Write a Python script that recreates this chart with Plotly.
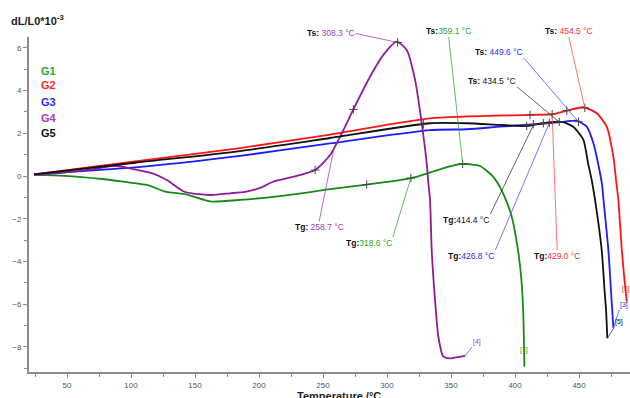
import numpy as np
import plotly.graph_objects as go

# ---------------- data ----------------
SERIES = ["G1", "G2", "G3", "G4", "G5"]

T_G1 = [24.2, 48.4, 77.3, 95.3, 112.5, 126.6, 143.8, 161.7, 185.2, 216.4, 255.5, 284.1,
        318.0, 336.0, 346.9, 358.4, 364.8, 372.7, 382.8, 390.6, 397.4, 402.3, 405.2, 406.5, 407.3]
DL_G1 = [0.05, 0.01, -0.14, -0.28, -0.42, -0.73, -0.87, -1.19, -1.12, -0.94, -0.62, -0.40,
         -0.11, 0.21, 0.42, 0.57, 0.55, 0.47, -0.03, -0.80, -1.91, -3.47, -5.01, -6.59, -8.93]

T_G2 = [24.2, 103.1, 185.2, 255.5, 333.6, 411.7, 429.9, 440.4, 453.4, 463.8, 471.6, 476.8,
        478.9, 480.7, 483.4, 485.5, 487.3]
DL_G2 = [0.08, 0.68, 1.31, 1.94, 2.70, 2.86, 2.90, 3.06, 3.22, 2.94, 2.31, 0.90,
         -0.19, -1.12, -3.47, -4.87, -5.89]

T_G3 = [24.2, 103.1, 185.2, 255.5, 333.6, 362.3, 388.3, 414.3, 435.2, 448.2, 456.0, 461.2,
        466.4, 468.0, 469.1, 472.9, 475.4, 476.8]
DL_G3 = [0.08, 0.40, 0.94, 1.53, 2.15, 2.19, 2.31, 2.42, 2.52, 2.59, 2.31, 1.53,
         0.13, -0.42, -1.12, -3.47, -5.81, -7.10]

T_G4 = [24.2, 43.2, 69.3, 87.5, 103.1, 116.2, 127.9, 142.2, 163.0, 177.3, 189.0, 200.8,
        211.0, 228.0, 243.8, 255.5, 265.9, 273.7, 286.7, 297.1, 307.6, 315.4, 321.9, 327.1,
        331.0, 332.3, 333.6, 334.9, 337.5, 340.1, 344.0, 349.2, 360.9]
DL_G4 = [0.05, 0.13, 0.31, 0.48, 0.31, 0.13, -0.19, -0.75, -0.89, -0.81, -0.74, -0.56,
         -0.27, -0.02, 0.28, 0.98, 2.15, 3.12, 4.65, 5.67, 6.29, 5.90, 4.50, 2.47,
         0.59, -0.34, -1.12, -3.47, -5.81, -7.53, -8.46, -8.54, -8.43]

T_G5 = [24.2, 103.1, 185.2, 255.5, 333.6, 362.3, 388.3, 409.1, 422.1, 432.6, 437.7, 445.5,
        453.4, 457.0, 459.9, 462.5, 467.7, 469.9, 471.1, 472.1]
DL_G5 = [0.08, 0.62, 1.17, 1.78, 2.47, 2.47, 2.39, 2.34, 2.47, 2.54, 2.52, 2.31,
         1.69, 0.61, -0.19, -1.12, -3.47, -5.34, -6.28, -7.60]

TS = [359.1, 454.5, 449.6, 308.3, 434.5]   # softening temperatures
TG = [318.6, 429.0, 426.8, 258.7, 414.4]   # glass transition temperatures

MARK_G1 = [284.1, 318.6, 359.1]
MARK_G2 = [411.7, 429.0, 440.4, 454.5]
MARK_G3 = [414.3, 426.8, 449.6]
MARK_G4 = [243.8, 273.7, 308.3]
MARK_G5 = [328.4, 409.1, 422.1, 434.5]

END_LABELS = ["[1]", "[2]", "[3]", "[4]", "[5]"]

X_TICKS = [50, 100, 150, 200, 250, 300, 350, 400, 450]
Y_TICKS = [-8, -6, -4, -2, 0, 2, 4, 6]

# ---------------- styles ----------------
T_ALL = [T_G1, T_G2, T_G3, T_G4, T_G5]
DL_ALL = [DL_G1, DL_G2, DL_G3, DL_G4, DL_G5]
MARKS = [MARK_G1, MARK_G2, MARK_G3, MARK_G4, MARK_G5]
LINE_COL = ["#168a16", "#ff1414", "#1c1cff", "#8e1c9a", "#111111"]
TEXT_COL = ["#2ca52c", "#ff2a2a", "#2a2aff", "#a040b0", "#111111"]
LEAD_COL = ["rgba(40,170,40,0.75)", "rgba(255,70,70,0.75)", "rgba(70,70,255,0.75)",
            "rgba(160,60,170,0.75)", "rgba(60,60,60,0.8)"]
FONT = "Liberation Sans, Arial, sans-serif"

# label offsets (pixels) and anchors: (ax, ay, xanchor, yanchor)
TS_POS = [(-14, -127, "center", "bottom"), (-16, -71, "center", "bottom"),
          (-55, -64, "right", "bottom"), (-42, -9, "right", "middle"),
          (-42, -35, "right", "bottom")]
TG_POS = [(-18, 59, "right", "top"), (5, 136, "center", "top"),
          (-54, 127, "right", "top"), (-15, 74, "center", "top"),
          (-43, 89, "right", "top")]
END_POS = [(0, -12, "center", "bottom", False), (-1, -8, "center", "bottom", False),
           (6, -18, "left", "bottom", True), (7, -9, "left", "bottom", True),
           (7, -11, "left", "bottom", True)]

fig = go.Figure()

for i, name in enumerate(SERIES):
    fig.add_trace(go.Scatter(
        x=T_ALL[i], y=DL_ALL[i], mode="lines", name=name,
        line=dict(color=LINE_COL[i], width=1.8, shape="spline", smoothing=0.6),
        showlegend=False, hoverinfo="skip"))

for i, name in enumerate(SERIES):
    mx = MARKS[i]
    my = np.interp(mx, T_ALL[i], DL_ALL[i])
    fig.add_trace(go.Scatter(
        x=mx, y=my, mode="markers", showlegend=False, hoverinfo="skip",
        marker=dict(symbol="cross-thin", size=6, line=dict(color="#444444", width=1))))

annotations = []
for i, name in enumerate(SERIES):
    # Ts
    ax, ay, xa, ya = TS_POS[i]
    sep = "" if i == 0 else " "
    annotations.append(dict(
        x=TS[i], y=float(np.interp(TS[i], T_ALL[i], DL_ALL[i])), xref="x", yref="y",
        text=f"<b>Ts:</b>{sep}<span style='color:{TEXT_COL[i]}'>{TS[i]:.1f} °C</span>",
        showarrow=True, arrowhead=0, arrowwidth=1, arrowcolor=LEAD_COL[i],
        ax=ax, ay=ay, xanchor=xa, yanchor=ya, borderpad=0,
        font=dict(family=FONT, size=8.5, color="#111111")))
    # Tg
    ax, ay, xa, ya = TG_POS[i]
    sep = " " if name == "G4" else ""
    annotations.append(dict(
        x=TG[i], y=float(np.interp(TG[i], T_ALL[i], DL_ALL[i])), xref="x", yref="y",
        text=f"<b>Tg:</b>{sep}<span style='color:{TEXT_COL[i]}'>{TG[i]:.1f} °C</span>",
        showarrow=True, arrowhead=0, arrowwidth=1, arrowcolor=LEAD_COL[i],
        ax=ax, ay=ay, xanchor=xa, yanchor=ya, borderpad=0,
        font=dict(family=FONT, size=8.5, color="#111111")))
    # end labels
    ax, ay, xa, ya, arrow = END_POS[i]
    annotations.append(dict(
        x=T_ALL[i][-1], y=DL_ALL[i][-1], xref="x", yref="y",
        text=END_LABELS[i], showarrow=True, arrowhead=0, arrowwidth=1,
        arrowcolor=LEAD_COL[i] if arrow else "rgba(0,0,0,0)",
        ax=ax, ay=ay, xanchor=xa, yanchor=ya, borderpad=0,
        font=dict(family=FONT, size=7, color=TEXT_COL[i])))

# series name labels (legend-like text)
legend_y = [0.90, 0.856, 0.806, 0.758, 0.713]
for i, name in enumerate(SERIES):
    annotations.append(dict(
        x=0.033, y=legend_y[i], xref="paper", yref="paper", text=f"<b>{name}</b>",
        showarrow=False, xanchor="center", yanchor="middle",
        font=dict(family=FONT, size=11, color=TEXT_COL[i])))

annotations.append(dict(
    x=-0.033, y=1.05, xref="paper", yref="paper", text="<b>dL/L0*10<sup>-3</sup></b>",
    showarrow=False, xanchor="left", yanchor="middle",
    font=dict(family=FONT, size=11, color="#222222")))
annotations.append(dict(
    x=0.516, y=-0.049, xref="paper", yref="paper", text="<b>Temperature /°C</b>",
    showarrow=False, xanchor="center", yanchor="top",
    font=dict(family=FONT, size=11, color="#222222")))

fig.update_layout(
    width=630, height=398,
    margin=dict(l=29, r=0, t=37, b=26),
    plot_bgcolor="white", paper_bgcolor="white",
    annotations=annotations,
    showlegend=False,
    font=dict(family=FONT),
    xaxis=dict(range=[20.3, 489.8], showgrid=False, zeroline=False,
               showline=True, linecolor="#8c8c8c", linewidth=2,
               ticks="outside", ticklen=4, tickcolor="#8c8c8c", tickwidth=1,
               tickvals=X_TICKS, tickfont=dict(size=8, color="#555555"),
               minor=dict(dtick=25, tick0=0, ticks="outside", ticklen=3,
                          tickcolor="#8c8c8c")),
    yaxis=dict(range=[-9.18, 6.51], showgrid=False, zeroline=False,
               showline=True, linecolor="#8c8c8c", linewidth=2,
               ticks="outside", ticklen=4, tickcolor="#8c8c8c", tickwidth=1,
               tickvals=Y_TICKS, tickfont=dict(size=8, color="#555555"),
               minor=dict(dtick=1, tick0=0, ticks="outside", ticklen=3,
                          tickcolor="#8c8c8c")),
)

fig.write_html("out.html", config={"displayModeBar": False},
               post_script="document.body.style.margin='0px';")
